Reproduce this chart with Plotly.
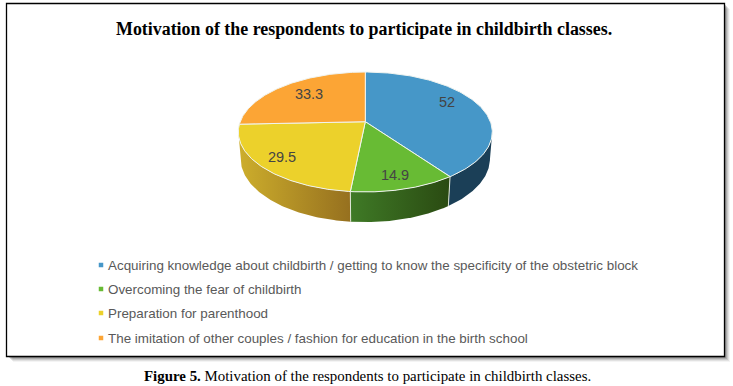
import numpy as np
import plotly.graph_objects as go

title = "Motivation of the respondents to participate in childbirth classes."
caption = "<b>Figure 5.</b> Motivation of the respondents to participate in childbirth classes."
categories = [
    "Acquiring knowledge about childbirth / getting to know the specificity of the obstetric block",
    "Overcoming the fear of childbirth",
    "Preparation for parenthood",
    "The imitation of other couples / fashion for education in the birth school",
]
values = [52, 14.9, 29.5, 33.3]
top_colors = ["#4697c8", "#68bb34", "#ecd12b", "#fca535"]
side_start = ["#1b3f57", "#3f7a26", "#cdae2c", "#b5762a"]
side_stop = ["#1b3f57", "#2a4a12", "#96701f", "#b5762a"]
label_x = [447, 395, 282, 309]
label_y = [103, 176, 158, 95]
legend_y = [265, 289, 313, 338]

# pie projection (perspective tilted disc), in page pixels
CX, CY, R, S, K = 365.3, 121.7, 125.1, 58.2, 0.1717
DEPTH, W_SHIFT = 26.8, 0.018


def rim(t, bottom=False):
    X, Z = np.sin(t), -np.cos(t)
    w = 1 - K * Z + (W_SHIFT if bottom else 0)
    d = DEPTH if bottom else 0
    return CX + R * X / w, CY + (S * Z + d) / w


fracs = np.array(values, dtype=float) / sum(values)
edges = np.concatenate([[0], np.cumsum(fracs)]) * 2 * np.pi
t_right, t_left = np.arccos(-K), 2 * np.pi - np.arccos(-K)

fig = go.Figure()

# sides
for i in range(len(values)):
    a, b = max(edges[i], t_right), min(edges[i + 1], t_left)
    if b <= a:
        continue
    t = np.linspace(a, b, 80)
    x1, y1 = rim(t)
    x2, y2 = rim(t[::-1], bottom=True)
    fig.add_trace(go.Scatter(
        x=np.r_[x1, x2, x1[0]], y=np.r_[y1, y2, y1[0]],
        mode="lines", line=dict(width=0), fill="toself",
        fillgradient=dict(type="horizontal",
                          colorscale=[[0, side_start[i]], [1, side_stop[i]]]),
        hoverinfo="skip", showlegend=False))

# separators on the side wall
for e in edges[1:3]:
    x1, y1 = rim(np.array([e]))
    x2, y2 = rim(np.array([e]), bottom=True)
    fig.add_trace(go.Scatter(x=[x1[0], x2[0]], y=[y1[0], y2[0]], mode="lines",
                             line=dict(color="#dfe6d8", width=1),
                             hoverinfo="skip", showlegend=False))

# top faces
for i in range(len(values)):
    t = np.linspace(edges[i], edges[i + 1], 120)
    x, y = rim(t)
    fig.add_trace(go.Scatter(
        x=np.r_[CX, x, CX], y=np.r_[CY, y, CY], mode="lines",
        line=dict(color="#f0f4f0", width=1), fill="toself",
        fillcolor=top_colors[i], hoverinfo="skip", showlegend=False))

# slice labels
fig.add_trace(go.Scatter(
    x=label_x, y=label_y, mode="text", text=[str(v) for v in values],
    textfont=dict(family="Liberation Sans", size=14.5, color="#444444"),
    hoverinfo="skip", showlegend=False))

# legend rows
fig.add_trace(go.Scatter(
    x=[101] * 4, y=legend_y, mode="markers",
    marker=dict(symbol="square", size=4.5, color=top_colors),
    hoverinfo="skip", showlegend=False))

annotations = [
    dict(x=105.5, y=ly, text=c, xanchor="left", yanchor="middle", showarrow=False,
         font=dict(family="Liberation Sans", size=13.4, color="#595959"))
    for c, ly in zip(categories, legend_y)
]
annotations.append(dict(x=364, y=29, text="<b>" + title + "</b>", xanchor="center",
                        yanchor="middle", showarrow=False,
                        font=dict(family="Liberation Serif", size=17.9, color="#000000")))
annotations.append(dict(x=367.5, y=376, text=caption, xanchor="center", yanchor="middle",
                        showarrow=False,
                        font=dict(family="Liberation Serif", size=14.9, color="#000000")))

# framed panel with soft drop shadow
shapes = []
for off, alpha in [(6, 0.06), (5, 0.10), (4, 0.14), (3, 0.20), (2, 0.25)]:
    shapes.append(dict(type="rect", x0=7 + off, y0=3 + off, x1=724 + off, y1=356 + off,
                       line=dict(width=0), fillcolor=f"rgba(60,60,60,{alpha})", layer="below"))
shapes.append(dict(type="rect", x0=6.5, y0=3.5, x1=724.5, y1=356.5,
                   line=dict(color="#000000", width=1.3), fillcolor="#ffffff", layer="below"))

fig.update_layout(
    width=733, height=386, margin=dict(l=0, r=0, t=0, b=0),
    paper_bgcolor="#ffffff", plot_bgcolor="#ffffff",
    xaxis=dict(range=[0, 733], visible=False, fixedrange=True),
    yaxis=dict(range=[386, 0], visible=False, fixedrange=True),
    annotations=annotations, shapes=shapes, showlegend=False,
)
fig.write_html("out.html", config=dict(displayModeBar=False),
               post_script="document.body.style.margin='0';document.body.style.overflow='hidden';")
